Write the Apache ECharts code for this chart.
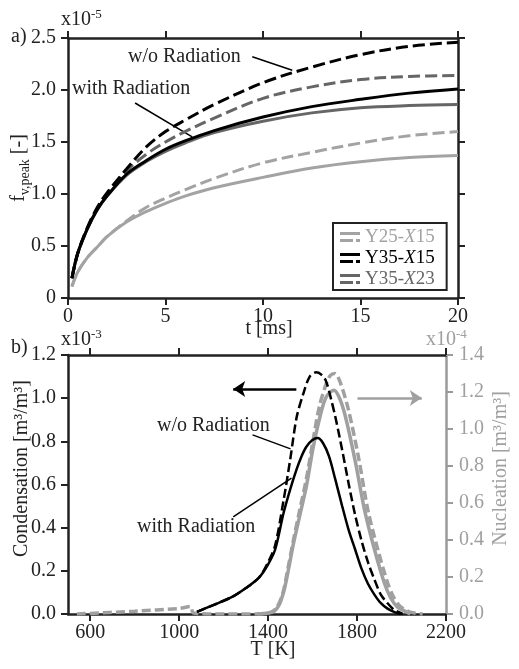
<!DOCTYPE html>
<html>
<head>
<meta charset="utf-8">
<script src="https://cdn.jsdelivr.net/npm/echarts@6/dist/echarts.min.js"></script>
<style>
  html, body { margin: 0; padding: 0; background: #fff; }
  #main { width: 519px; height: 669px; }
</style>
</head>
<body>
<div id="main"></div>
<script>
// a) peak soot volume fraction (x1e-5) vs time [ms]
var tMs = [0.2, 0.5, 1, 1.5, 2, 3, 4, 5, 6, 7.5, 10, 12.5, 15, 17.5, 20]
var y25x15With = [0.11, 0.25, 0.39, 0.49, 0.59, 0.73, 0.83, 0.91, 0.98, 1.06, 1.16, 1.25, 1.31, 1.35, 1.37]
var y25x15Without = [0.11, 0.25, 0.39, 0.49, 0.59, 0.74, 0.87, 0.96, 1.04, 1.15, 1.30, 1.40, 1.49, 1.56, 1.60]
var y35x15With = [0.19, 0.43, 0.67, 0.85, 0.98, 1.19, 1.32, 1.43, 1.51, 1.61, 1.74, 1.84, 1.91, 1.97, 2.01]
var y35x15Without = [0.19, 0.43, 0.68, 0.87, 1.01, 1.24, 1.45, 1.60, 1.71, 1.86, 2.07, 2.22, 2.34, 2.42, 2.46]
var y35x23With = [0.19, 0.43, 0.67, 0.85, 0.98, 1.18, 1.31, 1.41, 1.49, 1.59, 1.70, 1.78, 1.83, 1.85, 1.86]
var y35x23Without = [0.19, 0.43, 0.67, 0.86, 1.00, 1.22, 1.38, 1.50, 1.60, 1.73, 1.92, 2.03, 2.10, 2.13, 2.14]

// b) condensation (x1e-3) and nucleation (x1e-4) vs temperature [K]
var condWithT = [1080, 1150, 1240, 1300, 1360, 1400, 1432, 1470, 1500, 1528, 1550, 1572, 1598, 1623, 1648, 1674, 1703, 1733, 1762, 1791, 1820, 1849, 1878, 1907, 1937, 1966, 1995]
var condWith = [0.01, 0.04, 0.08, 0.12, 0.17, 0.23, 0.30, 0.47, 0.58, 0.67, 0.73, 0.775, 0.805, 0.815, 0.79, 0.73, 0.62, 0.50, 0.39, 0.30, 0.21, 0.14, 0.09, 0.05, 0.025, 0.01, 0]
var condWithoutT = [1080, 1150, 1240, 1300, 1360, 1400, 1432, 1470, 1500, 1528, 1558, 1587, 1616, 1638, 1660, 1682, 1703, 1733, 1762, 1791, 1820, 1849, 1878, 1907, 1937, 1966, 2005]
var condWithout = [0.01, 0.04, 0.08, 0.12, 0.17, 0.24, 0.32, 0.53, 0.72, 0.91, 1.02, 1.10, 1.12, 1.11, 1.08, 1.00, 0.91, 0.76, 0.605, 0.46, 0.34, 0.24, 0.16, 0.09, 0.05, 0.02, 0]
var nuclWithT = [1350, 1400, 1427, 1450, 1470, 1485, 1514, 1540, 1572, 1601, 1630, 1660, 1696, 1720, 1747, 1791, 1834, 1878, 1922, 1950, 1980, 2024, 2040]
var nuclWith = [0, 0.005, 0.015, 0.05, 0.12, 0.20, 0.38, 0.52, 0.69, 0.89, 1.05, 1.17, 1.21, 1.17, 1.07, 0.83, 0.56, 0.35, 0.17, 0.09, 0.04, 0.01, 0]
var nuclWithoutT = [540, 800, 1000, 1050, 1065, 1200, 1350, 1400, 1427, 1450, 1470, 1485, 1514, 1540, 1572, 1601, 1630, 1660, 1680, 1700, 1725, 1762, 1806, 1849, 1893, 1937, 1965, 1995, 2040, 2095]
var nuclWithout = [0, 0.015, 0.03, 0.04, 0.005, 0, 0, 0.005, 0.02, 0.06, 0.13, 0.22, 0.40, 0.55, 0.73, 0.93, 1.12, 1.24, 1.29, 1.30, 1.25, 1.10, 0.85, 0.56, 0.35, 0.17, 0.09, 0.04, 0.01, 0]
var tempTicks = [600, 1000, 1400, 1800, 2200]

var FONT = 'Liberation Serif'
var BLACK = '#000000'
var AXIS = '#222222'
var LIGHT = '#a3a3a3'
var DARK = '#666666'
var NUCL = '#a0a0a0'

function zip (xs, ys) {
  return xs.map(function (x, i) { return [x, ys[i]] })
}

var chart = echarts.init(document.getElementById('main'))

function axisBase (color) {
  return {
    nameMoveOverlap: false,
    axisLine: { show: true, onZero: false, lineStyle: { color: color, width: 2.5 } },
    axisTick: { show: true, inside: false, length: 7, lineStyle: { color: color, width: 2 } },
    splitLine: { show: false },
    axisLabel: { color: color, fontFamily: FONT, fontSize: 20 },
    nameTextStyle: { color: color, fontFamily: FONT, fontSize: 20 }
  }
}

function mk (extra, color) {
  return Object.assign(axisBase(color || AXIS), extra)
}

function topLine (name, data, color, dashed, idx) {
  return {
    name: name,
    type: 'line',
    xAxisIndex: 0,
    yAxisIndex: 0,
    data: zip(tMs, data),
    smooth: 0.35,
    symbol: 'none',
    color: color,
    lineStyle: { color: color, width: 3, type: dashed ? [12, 5] : 'solid' },
    z: 10 - idx
  }
}

function sup (base, exp, color) {
  return {
    text: '{b|' + base + '}{s|' + exp + '}',
    fill: color,
    rich: {
      b: { fontFamily: FONT, fontSize: 20, lineHeight: 22, verticalAlign: 'bottom' },
      s: { fontFamily: FONT, fontSize: 13, lineHeight: 22, verticalAlign: 'top' }
    }
  }
}

var option = {
  animation: false,
  backgroundColor: '#fff',
  grid: [
    { left: 68, top: 38, width: 390, height: 260 },
    { left: 68, top: 355, width: 389, height: 259 }
  ],
  legend: {
    orient: 'vertical',
    left: 333,
    top: 223,
    padding: [4, 12, 1, 7],
    itemGap: 1,
    itemWidth: 20,
    itemHeight: 10,
    itemTextGap: 3,
    borderColor: AXIS,
    borderWidth: 2,
    backgroundColor: '#fff',
    icon: 'path://M0,0H20V3H0Z M0,7H13V10H0Z M16,7H20V10H16Z',
    textStyle: { fontFamily: FONT, fontSize: 19, lineHeight: 20, rich: { i: { fontStyle: 'italic', fontFamily: FONT, fontSize: 19 } } },
    formatter: function (n) { return n.replace('Χ', '{i|Χ}') },
    data: [
      { name: 'Y25-Χ15', itemStyle: { color: LIGHT }, textStyle: { color: LIGHT } },
      { name: 'Y35-Χ15', itemStyle: { color: BLACK }, textStyle: { color: BLACK } },
      { name: 'Y35-Χ23', itemStyle: { color: DARK }, textStyle: { color: DARK } }
    ]
  },
  xAxis: [
    mk({
      gridIndex: 0, type: 'value', position: 'bottom', min: 0, max: 20, interval: 5,
      name: 't [ms]', nameLocation: 'middle', nameGap: 21,
      nameTextStyle: { color: AXIS, fontFamily: FONT, fontSize: 20, padding: [0, 0, 0, 12] },
      axisLabel: { color: AXIS, fontFamily: FONT, fontSize: 20, margin: 9 }
    }),
    mk({ gridIndex: 0, type: 'value', position: 'top', min: 0, max: 20, interval: 5, axisLabel: { show: false } }),
    mk({
      gridIndex: 1, type: 'value', position: 'bottom', min: 500, max: 2200,
      name: 'T [K]', nameLocation: 'middle', nameGap: 26,
      nameTextStyle: { color: AXIS, fontFamily: FONT, fontSize: 20, padding: [0, 0, 0, 32] },
      axisTick: { show: true, inside: false, length: 7, customValues: tempTicks, lineStyle: { color: AXIS, width: 2 } },
      axisLabel: {
        color: AXIS, fontFamily: FONT, fontSize: 20, margin: 9, customValues: tempTicks,
        formatter: function (v) { return String(v) }
      }
    }),
    mk({
      gridIndex: 1, type: 'value', position: 'top', min: 500, max: 2200,
      axisTick: { show: true, inside: false, length: 7, customValues: tempTicks, lineStyle: { color: AXIS, width: 2 } },
      axisLabel: { show: false }
    })
  ],
  yAxis: [
    mk({
      gridIndex: 0, type: 'value', position: 'left', min: 0, max: 2.5, interval: 0.5,
      name: '{b|f}{s|v,peak}{b| [-]}', nameLocation: 'middle', nameRotate: 90, nameGap: 36,
      nameTextStyle: {
        color: AXIS, fontFamily: FONT, fontSize: 20,
        rich: {
          b: { fontFamily: FONT, fontSize: 20, lineHeight: 26, color: AXIS },
          s: { fontFamily: FONT, fontSize: 14, lineHeight: 14, verticalAlign: 'bottom', color: AXIS }
        }
      },
      axisLabel: {
        color: AXIS, fontFamily: FONT, fontSize: 20, margin: 12,
        formatter: function (v) { return v === 0 ? '0' : v.toFixed(1) }
      }
    }),
    mk({ gridIndex: 0, type: 'value', position: 'right', min: 0, max: 2.5, interval: 0.5, axisLabel: { show: false } }),
    mk({
      gridIndex: 1, type: 'value', position: 'left', min: 0, max: 1.2, interval: 0.2,
      name: 'Condensation [m³/m³]', nameLocation: 'middle', nameRotate: 90, nameGap: 36,
      nameTextStyle: { color: AXIS, fontFamily: FONT, fontSize: 20, padding: [0, 0, 0, 32] },
      axisLabel: { color: AXIS, fontFamily: FONT, fontSize: 20, margin: 12, formatter: function (v) { return v.toFixed(1) } }
    }),
    mk({
      gridIndex: 1, type: 'value', position: 'right', min: 0, max: 1.4, interval: 0.2,
      name: 'Nucleation [m³/m³]', nameLocation: 'middle', nameRotate: 90, nameGap: 45,
      nameTextStyle: { color: NUCL, fontFamily: FONT, fontSize: 20, padding: [0, 0, 0, 32] },
      axisLabel: { color: NUCL, fontFamily: FONT, fontSize: 20, margin: 13, formatter: function (v) { return v.toFixed(1) } }
    }, '#9a9a9a')
  ],
  series: [
    topLine('Y25-Χ15', y25x15With, LIGHT, false, 5),
    topLine('Y25-Χ15', y25x15Without, LIGHT, true, 4),
    topLine('Y35-Χ23', y35x23With, DARK, false, 3),
    topLine('Y35-Χ23', y35x23Without, DARK, true, 2),
    Object.assign(topLine('Y35-Χ15', y35x15With, BLACK, false, 1), {
      markLine: {
        silent: true, symbol: ['none', 'none'], label: { show: false },
        lineStyle: { color: BLACK, width: 1.5, type: 'solid' },
        data: [[{ coord: [3.44, 1.875] }, { coord: [6.37, 1.55] }]]
      }
    }),
    Object.assign(topLine('Y35-Χ15', y35x15Without, BLACK, true, 0), {
      markLine: {
        silent: true, symbol: ['none', 'none'], label: { show: false },
        lineStyle: { color: BLACK, width: 1.5, type: 'solid' },
        data: [[{ coord: [9.45, 2.32] }, { coord: [11.5, 2.19] }]]
      }
    }),
    {
      name: 'Nucleation with', type: 'line', xAxisIndex: 2, yAxisIndex: 3,
      data: zip(nuclWithT, nuclWith), smooth: 0.3, symbol: 'none',
      lineStyle: { color: NUCL, width: 3.5 }, z: 3
    },
    {
      name: 'Nucleation w/o', type: 'line', xAxisIndex: 2, yAxisIndex: 3,
      data: zip(nuclWithoutT, nuclWithout), smooth: 0.3, symbol: 'none',
      lineStyle: { color: NUCL, width: 3.5, type: [9, 4] }, z: 3,
      markLine: {
        silent: true, symbol: ['none', 'arrow'], symbolSize: 12, label: { show: false },
        lineStyle: { color: NUCL, width: 2.5, type: 'solid' },
        data: [[{ coord: [1802, 1.168] }, { coord: [2091, 1.168] }]]
      }
    },
    {
      name: 'Condensation with', type: 'line', xAxisIndex: 2, yAxisIndex: 2,
      data: zip(condWithT, condWith), smooth: 0.3, symbol: 'none',
      lineStyle: { color: BLACK, width: 2.5 }, z: 5,
      markLine: {
        silent: true, symbol: ['none', 'none'], label: { show: false },
        lineStyle: { color: BLACK, width: 1.5, type: 'solid' },
        data: [
          [{ coord: [1243, 0.45] }, { coord: [1505, 0.63] }],
          [{ coord: [1330, 0.83] }, { coord: [1501, 0.765] }]
        ]
      }
    },
    {
      name: 'Condensation w/o', type: 'line', xAxisIndex: 2, yAxisIndex: 2,
      data: zip(condWithoutT, condWithout), smooth: 0.3, symbol: 'none',
      lineStyle: { color: BLACK, width: 2.5, type: [9, 4] }, z: 5,
      markLine: {
        silent: true, symbol: ['none', 'arrow'], symbolSize: 12, label: { show: false },
        lineStyle: { color: BLACK, width: 2.5, type: 'solid' },
        data: [[{ coord: [1527, 1.043] }, { coord: [1243, 1.043] }]]
      }
    }
  ],
  graphic: [
    { type: 'text', left: 11, top: 27, style: { text: 'a)', font: '20px "Liberation Serif"', fill: AXIS } },
    { type: 'text', left: 11, top: 338, style: { text: 'b)', font: '20px "Liberation Serif"', fill: AXIS } },
    { type: 'text', left: 61, top: 8, style: sup('x10', '-5', AXIS) },
    { type: 'text', left: 61, top: 328, style: sup('x10', '-3', AXIS) },
    { type: 'text', left: 426, top: 328, style: sup('x10', '-4', NUCL) },
    { type: 'text', left: 128, top: 47, style: { text: 'w/o Radiation', font: '20px "Liberation Serif"', fill: AXIS } },
    { type: 'text', left: 72, top: 79, style: { text: 'with Radiation', font: '20px "Liberation Serif"', fill: AXIS } },
    { type: 'text', left: 157, top: 416, style: { text: 'w/o Radiation', font: '20px "Liberation Serif"', fill: AXIS } },
    { type: 'text', left: 137, top: 517, style: { text: 'with Radiation', font: '20px "Liberation Serif"', fill: AXIS } }
  ]
}

chart.setOption(option)
</script>
</body>
</html>
